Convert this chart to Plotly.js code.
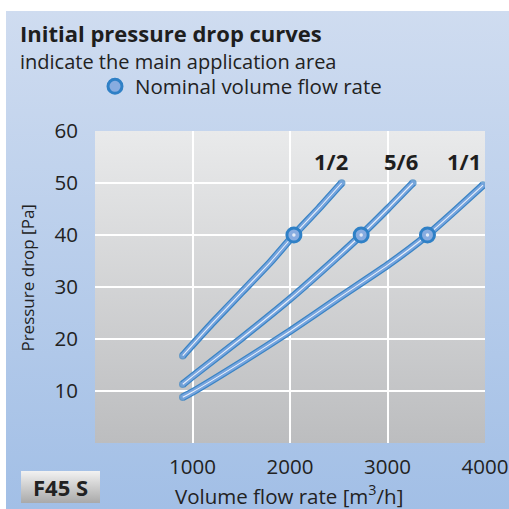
<!DOCTYPE html>
<html><head><meta charset="utf-8">
<script src="https://cdn.plot.ly/plotly-3.0.1.min.js"></script>
<style>
html,body{margin:0;padding:0;background:#fff;}
#chart{width:509px;height:509px;background:linear-gradient(#cfdcf0,#a2bfe6) no-repeat 6px 11px/503px 498px;}
</style></head><body><div id="chart"></div>
<script>
// Data
const flow12 = [900, 1200, 1500, 1800, 2040, 2300, 2530];
const dp12   = [16.8, 23, 28.9, 34.8, 40, 45.2, 50];
const flow56 = [900, 1000, 1500, 2000, 2500, 2730, 3000, 3260];
const dp56   = [11.3, 12.8, 20.1, 27.7, 36, 40, 45, 50];
const flow11 = [900, 1000, 1500, 2000, 2500, 3000, 3410, 3700, 3980];
const dp11   = [8.8, 9.8, 15.5, 21.5, 27.9, 34.2, 40, 44.8, 49.6];
const nominalFlow = [2040, 2730, 3410];
const nominalDp   = [40, 40, 40];
const curveNames  = ['1/2', '5/6', '1/1'];
const labelFlow   = [2425, 3140, 3786];
const labelDp     = [54.3, 54.3, 54.3];
const xTicks = [1000, 2000, 3000, 4000];
const yTicks = [10, 20, 30, 40, 50, 60];

const curves = [[flow12, dp12], [flow56, dp56], [flow11, dp11]];
const DARK = '#3a84c5', BODY = '#76a4de';
const traces = [];
function capSizes(arr, s){ return arr.map((_, i) => (i === 0 || i === arr.length - 1) ? s : 0); }
curves.forEach(([x, y], k) => {
  traces.push({x, y, type:'scatter', mode:'lines+markers', line:{color:DARK, width:7.5, shape:'spline', smoothing:0.5},
    marker:{size:capSizes(x, 7.5), color:DARK, line:{width:0}}, hoverinfo:'skip', showlegend:false});
  traces.push({x, y, type:'scatter', mode:'lines+markers', line:{color:BODY, width:5, shape:'spline', smoothing:0.5},
    marker:{size:capSizes(x, 5), color:BODY, line:{width:0}}, hoverinfo:'skip', showlegend:false});
  traces.push({x, y, type:'scatter', mode:'lines', line:{color:'rgba(255,255,255,0.85)', width:1.1, shape:'spline', smoothing:0.5},
    hoverinfo:'skip', showlegend:false});
});
traces.push({x:nominalFlow, y:nominalDp, type:'scatter', mode:'markers', name:'Nominal volume flow rate',
  marker:{size:14, color:'#88ace0', line:{color:'#2f80c6', width:3}}, hoverinfo:'skip', showlegend:true});
traces.push({x:nominalFlow, y:nominalDp, type:'scatter', mode:'markers',
  marker:{size:3.5, color:'#e4ecf8', line:{width:0}}, hoverinfo:'skip', showlegend:false});

const svgUri = s => 'data:image/svg+xml;charset=utf-8,' + encodeURIComponent(s);
const plotBg = svgUri('<svg xmlns="http://www.w3.org/2000/svg" viewBox="0 0 100 100" width="100" height="100" preserveAspectRatio="none"><defs><linearGradient id="g" x1="0" y1="0" x2="0" y2="1"><stop offset="0" stop-color="#e9eaeb"/><stop offset="1" stop-color="#bcbdbf"/></linearGradient></defs><rect width="100" height="100" fill="url(#g)"/></svg>');
const badgeBg = svgUri('<svg xmlns="http://www.w3.org/2000/svg" viewBox="0 0 100 100" width="100" height="100" preserveAspectRatio="none"><defs><linearGradient id="b" x1="0" y1="0" x2="0" y2="1"><stop offset="0" stop-color="#f2f2f2"/><stop offset="1" stop-color="#a9a9a9"/></linearGradient></defs><rect width="100" height="100" fill="url(#b)"/></svg>');

const FONT = '"Open Sans", sans-serif';
const annotations = [
  {text:'<b>Initial pressure drop curves</b>', xref:'paper', yref:'paper', x:-0.197, y:1.3141, xanchor:'left', yanchor:'middle', showarrow:false, font:{size:22, color:'#1e1e1e', family:FONT}},
  {text:'indicate the main application area', xref:'paper', yref:'paper', x:-0.197, y:1.2228, xanchor:'left', yanchor:'middle', showarrow:false, font:{size:20, color:'#222', family:FONT}},
  {text:'Pressure drop [Pa]', xref:'paper', yref:'paper', x:-0.172, y:0.53, textangle:-90, xanchor:'center', yanchor:'middle', showarrow:false, font:{size:17, color:'#222', family:FONT}},
  {text:'Volume flow rate [m<sup>3</sup>/h]', xref:'paper', yref:'paper', x:0.497, y:-0.167, xanchor:'center', yanchor:'middle', showarrow:false, font:{size:20.5, color:'#222', family:FONT}},
  {text:'<b>F45 S</b>', xref:'paper', yref:'paper', x:-0.0885, y:-0.1426, xanchor:'center', yanchor:'middle', showarrow:false, font:{size:22, color:'#222', family:FONT}},
];
curveNames.forEach((n, i) => annotations.push({text:'<b>' + n + '</b>', x:labelFlow[i], y:labelDp[i], xref:'x', yref:'y', showarrow:false, xanchor:'center', yanchor:'middle', font:{size:22, color:'#1e1e1e', family:FONT}}));

const layout = {
  width:509, height:509, margin:{l:95, r:24, t:131, b:66},
  paper_bgcolor:'rgba(0,0,0,0)', plot_bgcolor:'rgba(0,0,0,0)',
  font:{family:FONT, color:'#222'},
  xaxis:{range:[0, 4000], tickvals:xTicks, ticktext:xTicks.map(String), showgrid:true, gridcolor:'#ffffff', gridwidth:2,
    zeroline:false, showline:false, ticks:'', ticklabelstandoff:9, tickfont:{size:20.5, color:'#222', family:FONT}, fixedrange:true},
  yaxis:{range:[0, 60], tickvals:yTicks, ticktext:yTicks.map(String), showgrid:true, gridcolor:'#ffffff', gridwidth:2,
    zeroline:false, showline:false, ticks:'', ticklabelstandoff:16, tickfont:{size:20.5, color:'#222', family:FONT}, fixedrange:true},
  showlegend:true,
  legend:{x:0, y:1.1426, xanchor:'left', yanchor:'middle', bgcolor:'rgba(0,0,0,0)', borderwidth:0, font:{size:20.5, color:'#222', family:FONT}, itemsizing:'trace'},
  images:[
    {source:plotBg, xref:'paper', yref:'paper', x:0, y:1, sizex:1, sizey:1, sizing:'stretch', xanchor:'left', yanchor:'top', layer:'below'},
    {source:badgeBg, xref:'paper', yref:'paper', x:-0.1897, y:-0.0897, sizex:0.2025, sizey:0.1026, sizing:'stretch', xanchor:'left', yanchor:'top', layer:'above'}
  ],
  annotations
};
Plotly.newPlot('chart', traces, layout, {displayModeBar:false, staticPlot:true});
</script></body></html>
